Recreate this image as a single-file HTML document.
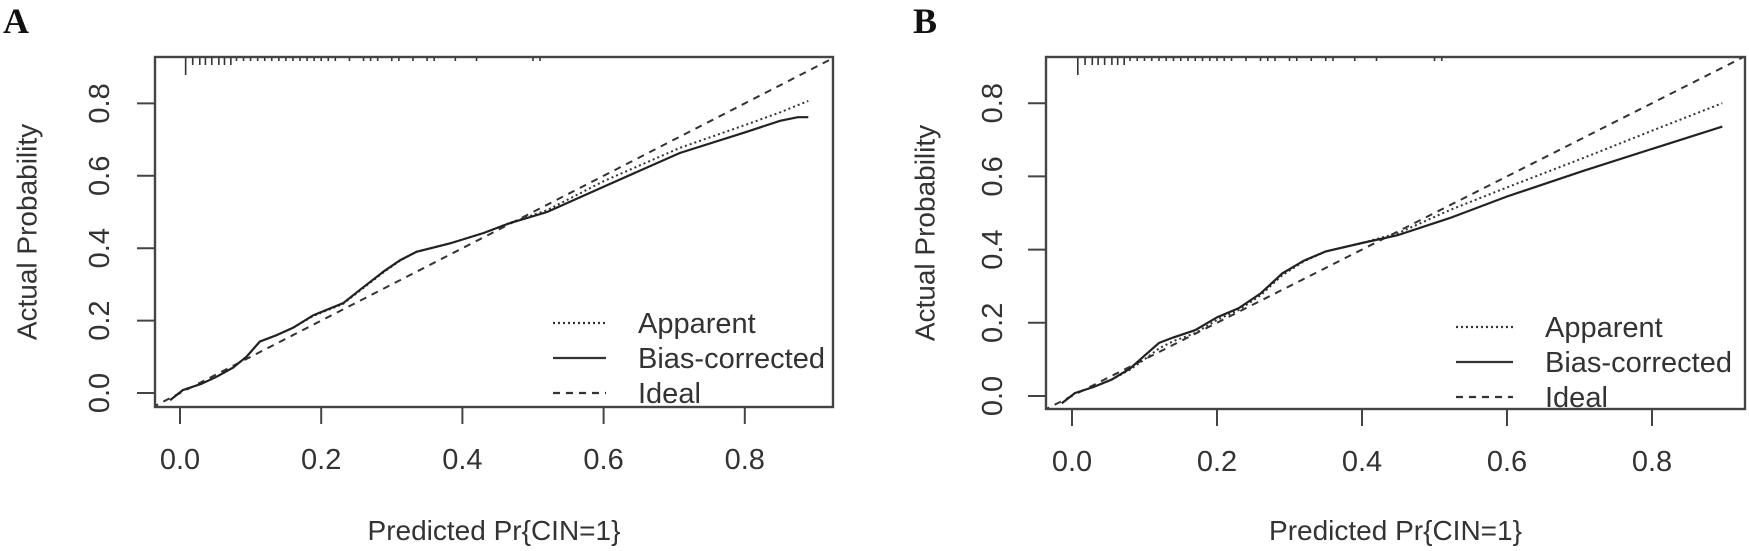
<!DOCTYPE html>
<html><head><meta charset="utf-8">
<style>
html,body{margin:0;padding:0;background:#fff;}
svg{display:block;font-family:"Liberation Sans",Arial,sans-serif;}
</style></head>
<body>
<svg id="chart" width="1749" height="551" viewBox="0 0 1749 551" xmlns="http://www.w3.org/2000/svg">
<defs>
<clipPath id="clipA"><rect x="155" y="57" width="678" height="350"/></clipPath>
<clipPath id="clipB"><rect x="1046" y="57" width="699" height="352"/></clipPath>
</defs>
<text x="3" y="33" font-family="Liberation Serif, serif" font-weight="bold" font-size="36" fill="#111">A</text>
<text x="913" y="33" font-family="Liberation Serif, serif" font-weight="bold" font-size="36" fill="#111">B</text>
<g id="panelA"></g>
<g id="panelB"></g>
</svg>
<script>
const xTicks = [0.0, 0.2, 0.4, 0.6, 0.8];
const yTicks = [0.0, 0.2, 0.4, 0.6, 0.8];
const xTickLabels = ["0.0","0.2","0.4","0.6","0.8"];
const yTickLabels = ["0.0","0.2","0.4","0.6","0.8"];
const legendLabels = ["Apparent","Bias-corrected","Ideal"];

const aBiasX = [-0.014,0.004,0.03,0.052,0.075,0.094,0.113,0.137,0.16,0.189,0.231,0.255,0.288,0.312,0.335,0.382,0.43,0.467,0.52,0.6,0.708,0.8,0.85,0.875,0.89];
const aBiasY = [-0.02,0.008,0.025,0.045,0.07,0.10,0.142,0.160,0.18,0.215,0.248,0.285,0.335,0.367,0.39,0.413,0.442,0.469,0.50,0.57,0.663,0.72,0.752,0.762,0.762];
const aAppX = [-0.014,0.004,0.03,0.052,0.075,0.094,0.113,0.137,0.16,0.189,0.231,0.255,0.288,0.312,0.335,0.382,0.43,0.467,0.52,0.6,0.708,0.8,0.85,0.89];
const aAppY = [-0.02,0.008,0.025,0.045,0.07,0.10,0.142,0.160,0.18,0.213,0.246,0.283,0.333,0.366,0.39,0.413,0.442,0.47,0.505,0.585,0.677,0.74,0.775,0.807];

const bBiasX = [-0.014,0.004,0.03,0.055,0.08,0.1,0.12,0.14,0.17,0.2,0.23,0.26,0.29,0.32,0.35,0.4,0.45,0.521,0.6,0.705,0.8,0.897];
const bBiasY = [-0.02,0.008,0.025,0.045,0.075,0.11,0.145,0.16,0.18,0.215,0.24,0.28,0.335,0.37,0.395,0.418,0.44,0.486,0.545,0.615,0.675,0.736];
const bAppX = [-0.014,0.004,0.03,0.055,0.08,0.1,0.12,0.14,0.17,0.2,0.23,0.26,0.29,0.32,0.35,0.4,0.45,0.521,0.6,0.705,0.8,0.897];
const bAppY = [-0.02,0.008,0.025,0.045,0.072,0.10,0.13,0.15,0.172,0.208,0.235,0.275,0.33,0.368,0.395,0.418,0.445,0.508,0.57,0.65,0.725,0.80];

const idealX = [-0.04, 0.93];
const idealY = [-0.04, 0.93];

const rugX = [0.008,0.018,0.028,0.036,0.045,0.055,0.063,0.072,0.08,0.09,0.1,0.11,0.12,0.13,0.14,0.15,0.16,0.17,0.18,0.19,0.2,0.21,0.22,0.24,0.26,0.27,0.28,0.3,0.31,0.33,0.35,0.36,0.39,0.42,0.5,0.51];
const rugH = [6,3,3,2,2,2,2,2,1,1,1,1,1,1,1,1,1,1,1,1,1,1,1,1,1,1,1,1,1,1,1,1,1,1,1,1];

const NS = "http://www.w3.org/2000/svg";
function mk(tag, attrs, parent){
  const e = document.createElementNS(NS, tag);
  for (const k in attrs) e.setAttribute(k, attrs[k]);
  parent.appendChild(e);
  return e;
}

function drawPanel(g, cfg, biasX, biasY, appX, appY){
  const sx = v => cfg.x0 + v * cfg.kx;
  const sy = v => cfg.y0 - v * cfg.ky;
  const L = cfg.left, R = cfg.right, T = cfg.top, B = cfg.bottom;

  const pathOf = (xs, ys) => xs.map((v,i)=>(i?"L":"M")+sx(v).toFixed(1)+","+sy(ys[i]).toFixed(1)).join(" ");
  const cg = mk("g", {"clip-path":"url(#"+cfg.clip+")"}, g);
  const ideal = mk("path", {d: pathOf(idealX, idealY), fill:"none", stroke:"#333", "stroke-width":"2", "stroke-dasharray":"7,6"}, cg);
  
  
  const app = mk("path", {d: pathOf(appX, appY), fill:"none", stroke:"#333", "stroke-width":"2", "stroke-dasharray":"2,3"}, cg);
  
  
  const bias = mk("path", {d: pathOf(biasX, biasY), fill:"none", stroke:"#222", "stroke-width":"2.2"}, cg);
  
  

  rugX.forEach((v,i)=>{
    const len = rugH[i] === 6 ? 18 : (rugH[i] >= 2 ? 8 : 4);
    const r = mk("line", {x1:sx(v), x2:sx(v), y1:T, y2:T+len, stroke:"#333", "stroke-width":"1.6"}, g);
    
    
  });

  const box = mk("rect", {x:L, y:T, width:R-L, height:B-T, fill:"none", stroke:"#444", "stroke-width":"2.4"}, g);
  
  

  xTicks.forEach((v,i)=>{
    const t = mk("line", {x1:sx(v), x2:sx(v), y1:B, y2:B+17, stroke:"#444", "stroke-width":"2"}, g);
    
    
    const tl = mk("text", {x:sx(v), y:B+62, "text-anchor":"middle", "font-size":"29", fill:"#333"}, g);
    tl.textContent = xTickLabels[i];
    
    
  });
  yTicks.forEach((v,i)=>{
    const t = mk("line", {x1:L-18, x2:L, y1:sy(v), y2:sy(v), stroke:"#444", "stroke-width":"2"}, g);
    
    
    const cx = cfg.ylabX, cy = sy(v);
    const tl = mk("text", {x:cx, y:cy, "text-anchor":"middle", "dominant-baseline":"central", "font-size":"29", fill:"#333", transform:"rotate(-90 "+cx+" "+cy+")"}, g);
    tl.textContent = yTickLabels[i];
    
    
  });

  const xt = mk("text", {x:(L+R)/2, y:540, "text-anchor":"middle", "font-size":"28", fill:"#333"}, g);
  xt.textContent = "Predicted Pr{CIN=1}";
  
  
  const tx = cfg.titleX, ty = (T+B)/2;
  const yt = mk("text", {x:tx, y:ty, "text-anchor":"middle", "dominant-baseline":"central", "font-size":"28", fill:"#333", transform:"rotate(-90 "+tx+" "+ty+")"}, g);
  yt.textContent = "Actual Probability";
  
  

  const lg = mk("g", {"clip-path":"url(#"+cfg.clip+")"}, g);
  
  
  const dashes = ["2,3", null, "7,6"];
  legendLabels.forEach((lab,i)=>{
    const y = cfg.legY + i*35;
    const ln = mk("line", {x1:cfg.legX1, x2:cfg.legX2, y1:y, y2:y, stroke:"#333", "stroke-width":"2.2"}, lg);
    if (dashes[i]) ln.setAttribute("stroke-dasharray", dashes[i]);
    
    
    const tl = mk("text", {x:cfg.legTX, y:y+10, "font-size":"29", fill:"#333"}, lg);
    tl.textContent = lab;
    
    
  });
}

drawPanel(document.getElementById("panelA"),
  {x0:180, kx:706, y0:393, ky:362, left:155, right:833, top:57, bottom:407, clip:"clipA",
   ylabX:100, titleX:27, legY:323, legX1:553, legX2:606, legTX:638},
  aBiasX, aBiasY, aAppX, aAppY);
drawPanel(document.getElementById("panelB"),
  {x0:1072, kx:725, y0:396, ky:366, left:1046, right:1745, top:57, bottom:409, clip:"clipB",
   ylabX:993, titleX:925, legY:327, legX1:1456, legX2:1513, legTX:1545},
  bBiasX, bBiasY, bAppX, bAppY);
</script>
</body></html>
